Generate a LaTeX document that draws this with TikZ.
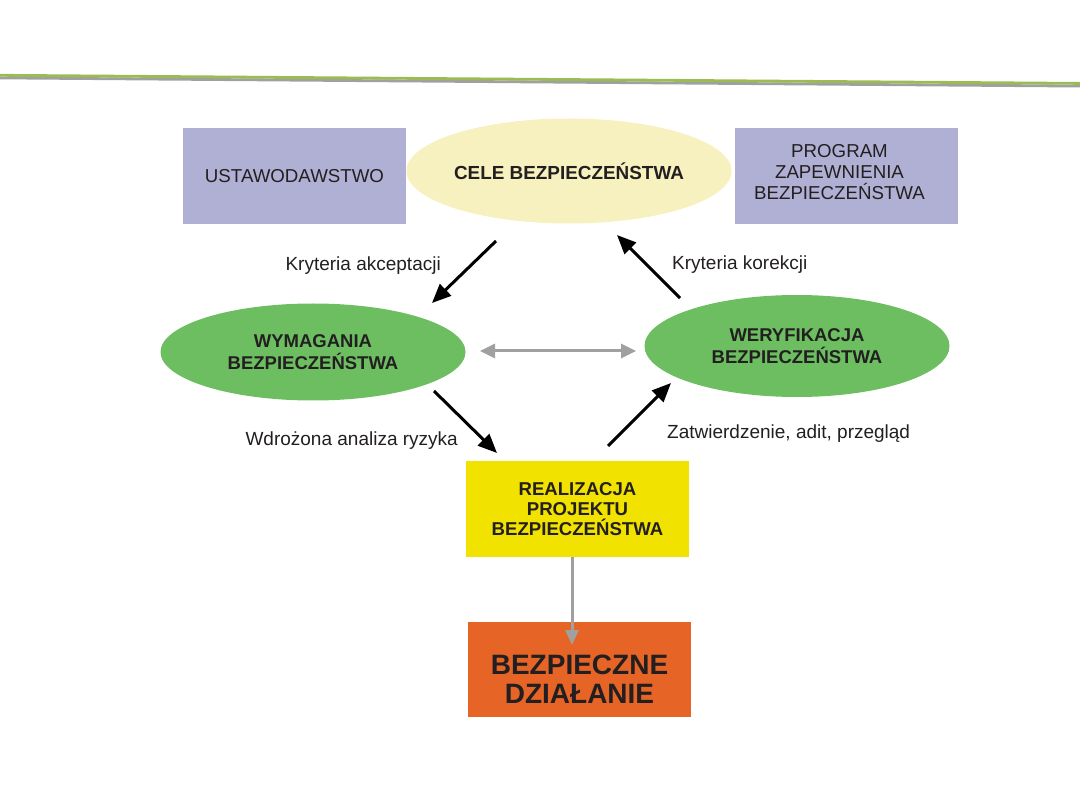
\documentclass[tikz,border=0pt]{standalone}
\usepackage{fontspec}
\setmainfont{Liberation Sans}
\usetikzlibrary{shapes.geometric,arrows.meta}
\definecolor{lav}{RGB}{176,176,212}
\definecolor{cream}{RGB}{246,241,190}
\definecolor{lgreen}{RGB}{108,190,97}
\definecolor{yel}{RGB}{242,226,0}
\definecolor{orng}{RGB}{230,101,38}
\definecolor{txt}{RGB}{35,31,32}
\definecolor{topgreen}{RGB}{155,188,82}
\definecolor{topgray}{RGB}{160,160,160}
\definecolor{arrgray}{RGB}{160,160,160}
\tikzset{
  lavbox/.style={rectangle, fill=lav, minimum width=223pt, minimum height=96pt, inner sep=0pt, align=center, text=txt, font=\fontsize{18.7}{21}\selectfont},
  ell/.style={ellipse, inner sep=0pt, align=center, text=txt, font=\bfseries\fontsize{18.5}{21.5}\selectfont},
  lbl/.style={text=txt, font=\fontsize{19}{21}\selectfont, inner sep=0pt},
  blk/.style={draw=black, line width=3pt, -{Triangle[length=19pt,width=16pt]}},
  gry/.style={draw=arrgray, line width=3pt, -{Triangle[length=15pt,width=13pt]}},
  gry2/.style={draw=arrgray, line width=3pt, {Triangle[length=15pt,width=14pt]}-{Triangle[length=15pt,width=14pt]}},
}
\begin{document}
\begin{tikzpicture}[x=1pt,y=-1pt]
\useasboundingbox (0,0) rectangle (1080,810);
% top lines
\draw[topgray, line width=2.8pt] (0,77.9) -- (1080,86.1);
\draw[topgreen, line width=2.8pt] (0,75.3) -- (1080,83.4);
% nodes
\node[lavbox] (ustaw) at (294.5,176.5) {USTAWODAWSTWO};
\node[lavbox] (prog) at (846.5,176) {PROGRAM\kern14pt\\ZAPEWNIENIA\kern14pt\\BEZPIECZEŃSTWA\kern14pt\rule[-9pt]{0pt}{9pt}};
\node[ell, fill=cream, minimum width=306pt, minimum height=105pt, font=\bfseries\fontsize{18.9}{21}\selectfont] (cele) at (569,171) {CELE BEZPIECZEŃSTWA};
\node[ell, fill=lgreen, minimum width=305pt, minimum height=97pt] (wym) at (313,352) {WYMAGANIA\\BEZPIECZEŃSTWA};
\node[ell, fill=lgreen, minimum width=305pt, minimum height=102pt] (wer) at (797,346) {WERYFIKACJA\\BEZPIECZEŃSTWA};
\node[rectangle, fill=yel, minimum width=223pt, minimum height=96pt, inner sep=0pt, align=center, text=txt, font=\bfseries\fontsize{18.6}{20}\selectfont] (real) at (577.5,509) {REALIZACJA\\PROJEKTU\\BEZPIECZEŃSTWA};
\node[rectangle, fill=orng, minimum width=223pt, minimum height=95pt, inner sep=0pt, align=center, text=txt, font=\bfseries\fontsize{28}{29}\selectfont] (dz) at (579.5,669.5) {\rule{0pt}{38pt}BEZPIECZNE\\DZIAŁANIE};
% labels
\node[lbl, anchor=east] (l1) at (441,266) {Kryteria akceptacji};
\node[lbl, anchor=west] (l2) at (672,265) {Kryteria korekcji};
\node[lbl, anchor=east] (l3) at (458,441) {Wdrożona analiza ryzyka};
\node[lbl, anchor=west] (l4) at (667,434) {Zatwierdzenie, adit, przegląd};
% connector ends
\coordinate (a1s) at (496,241);
\coordinate (a1e) at (432,303);
\coordinate (a2s) at (680,298);
\coordinate (a2e) at (617,235);
\coordinate (a3s) at (434,391);
\coordinate (a3e) at (497,453);
\coordinate (a4s) at (608,446);
\coordinate (a4e) at (671,383);
\coordinate (d1) at (480,351);
\coordinate (d2) at (636,351);
\coordinate (dzin) at (572,645);
\coordinate (realb) at (572,557);
% connectors
\draw[blk] (a1s) -- (a1e);
\draw[blk] (a2s) -- (a2e);
\draw[blk] (a3s) -- (a3e);
\draw[blk] (a4s) -- (a4e);
\draw[gry2] (d1) -- (d2);
\draw[gry] (realb) -- (dzin);
\end{tikzpicture}
\end{document}
